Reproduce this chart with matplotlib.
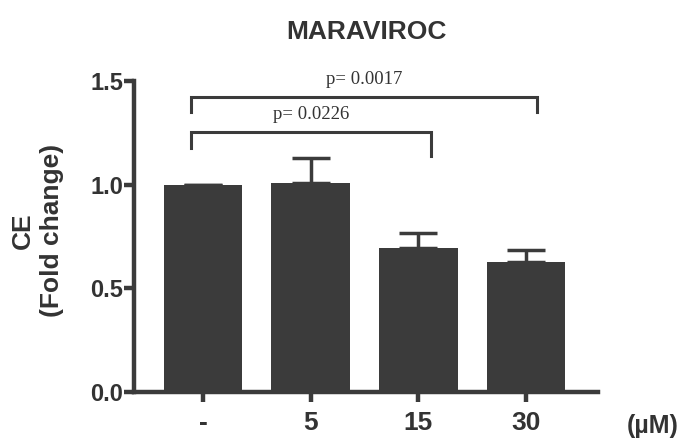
import matplotlib
matplotlib.use("Agg")
import matplotlib.pyplot as plt

# Cholesterol efflux with maraviroc treatment
doses = ["-", "5", "15", "30"]
fold_change = [1.00, 1.01, 0.695, 0.627]
sem = [0.0, 0.12, 0.072, 0.058]

# significance brackets: (x_left, x_right, height, left drop, right drop, label)
brackets = [
    (-0.11, 2.12, 1.254, 1.177, 1.138, "p= 0.0226"),
    (-0.11, 3.10, 1.423, 1.350, 1.350, "p= 0.0017"),
]

dark = "#3b3b3b"
txt = "#333333"

fig = plt.figure(figsize=(6.87, 4.43), dpi=100)
ax = fig.add_axes([134 / 687, 1 - 392 / 443, (598 - 134) / 687, (392 - 81) / 443])

x = range(len(doses))
ax.bar(x, fold_change, width=0.73, color=dark, zorder=2)
ax.errorbar(x, fold_change, yerr=[[0] * len(sem), sem], fmt="none",
            ecolor=dark, elinewidth=2.5, capsize=14, capthick=2.5, zorder=1)

for xl, xr, h, dl, dr, lab in brackets:
    ax.plot([xl, xl, xr, xr], [dl, h, h, dr], color=dark, lw=2.2,
            clip_on=False, solid_joinstyle="miter")
    ax.text((xl + xr) / 2, h + 0.045, lab, ha="center", va="bottom",
            family="Liberation Serif", fontsize=13.5, color=txt)

ax.set_xlim(-0.64, 3.67)
ax.set_ylim(0, 1.5)
ax.set_yticks([0.0, 0.5, 1.0, 1.5])
ax.set_yticklabels(["0.0", "0.5", "1.0", "1.5"])
ax.set_xticks(list(x))
ax.set_xticklabels(doses)

for side in ["top", "right"]:
    ax.spines[side].set_visible(False)
for side in ["left", "bottom"]:
    ax.spines[side].set_linewidth(3.2)
    ax.spines[side].set_color(dark)

ax.tick_params(axis="both", length=7, width=3.2, color=dark, labelcolor=txt)
ax.tick_params(axis="x", pad=7, labelsize=19)
ax.tick_params(axis="y", pad=1, labelsize=17)
for lbl in ax.get_xticklabels() + ax.get_yticklabels():
    lbl.set_fontweight("bold")
    lbl.set_family("Liberation Sans")

ax.set_ylabel("CE\n(Fold change)", fontsize=19, fontweight="bold",
              family="Liberation Sans", color=txt, linespacing=1.25,
              va="center", ha="center")
ax.yaxis.set_label_coords(-0.208, 0.52)
ax.set_title("MARAVIROC", fontsize=19, fontweight="bold",
             family="Liberation Sans", color=txt, pad=30)
fig.text(653 / 687, 1 - 426 / 443, "(µM)", fontsize=18, fontweight="bold",
         family="Liberation Sans", color=txt, ha="center", va="center")

fig.savefig("out.png", dpi=100)
